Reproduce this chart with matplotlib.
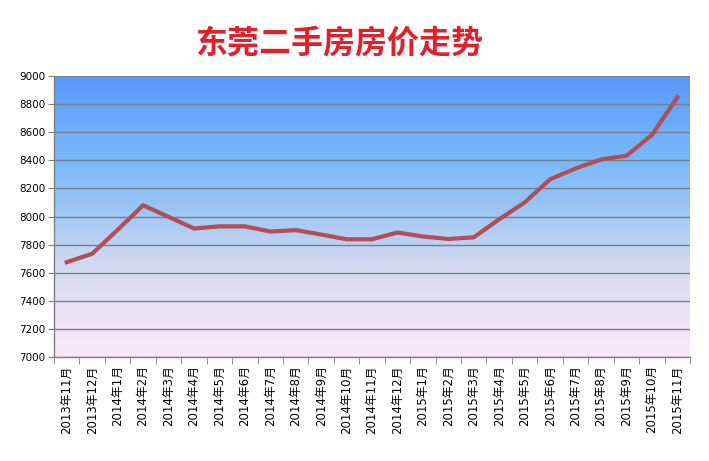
import matplotlib
matplotlib.use("Agg")
import matplotlib.pyplot as plt
import numpy as np
from matplotlib.colors import LinearSegmentedColormap

plt.rcParams['font.family'] = ['DejaVu Sans', 'Noto Sans CJK SC']

months = ["2013年11月", "2013年12月", "2014年1月", "2014年2月", "2014年3月", "2014年4月",
          "2014年5月", "2014年6月", "2014年7月", "2014年8月", "2014年9月", "2014年10月",
          "2014年11月", "2014年12月", "2015年1月", "2015年2月", "2015年3月", "2015年4月",
          "2015年5月", "2015年6月", "2015年7月", "2015年8月", "2015年9月", "2015年10月",
          "2015年11月"]
prices = [7675, 7735, 7905, 8080, 7998, 7915, 7930, 7930, 7893, 7903, 7872, 7838,
          7838, 7886, 7858, 7840, 7852, 7980, 8100, 8265, 8342, 8406, 8432, 8580, 8848]
yticks = [7000, 7200, 7400, 7600, 7800, 8000, 8200, 8400, 8600, 8800, 9000]

fig = plt.figure(figsize=(7.09, 4.61), dpi=100)
ax = fig.add_axes([0.0762, 0.2256, 0.8970, 0.6095])

n = len(months)
x = np.arange(n)
ax.set_xlim(-0.5, n - 0.5)
ax.set_ylim(7000, 9000)

# gradient background
cmap = LinearSegmentedColormap.from_list("bg", [
    (0.0, (250/255, 232/255, 250/255)),
    (0.12, (240/255, 228/255, 246/255)),
    (0.35, (205/255, 215/255, 240/255)),
    (0.55, (150/255, 195/255, 245/255)),
    (0.70, (122/255, 185/255, 252/255)),
    (1.0, (88/255, 153/255, 250/255)),
])
grad = np.linspace(0, 1, 256).reshape(-1, 1)
ax.imshow(grad, aspect='auto', cmap=cmap, origin='lower',
          extent=(-0.5, n - 0.5, 7000, 9000), zorder=0)

for v in yticks:
    ax.axhline(v, color='#74808F', lw=1.0, zorder=1)

ax.plot(x, prices, color='#B04F58', lw=3, solid_joinstyle='round', zorder=3)

ax.set_yticks(yticks)
ax.set_yticklabels([str(v) for v in yticks], fontsize=7.5)
ax.set_xticks(x)
ax.set_xticklabels(months, rotation=90, fontsize=8.5)
ax.set_xticks(np.arange(-0.5, n, 1), minor=True)
ax.tick_params(axis='x', which='major', length=0, pad=6)
ax.tick_params(axis='x', which='minor', length=5, color='#7F7F7F', direction='out')
ax.tick_params(axis='y', length=4, color='#7F7F7F', direction='out', pad=2)

for s in ['top', 'right']:
    ax.spines[s].set_visible(False)
for s in ['left', 'bottom']:
    ax.spines[s].set_color('#7F7F7F')
    ax.spines[s].set_linewidth(1)

fig.text(0.478, 0.905, "东莞二手房房价走势", color='#E0202A', fontsize=23,
         fontweight='bold', ha='center', va='center', family=['Noto Sans CJK SC'])

fig.savefig("out.png", dpi=100)
